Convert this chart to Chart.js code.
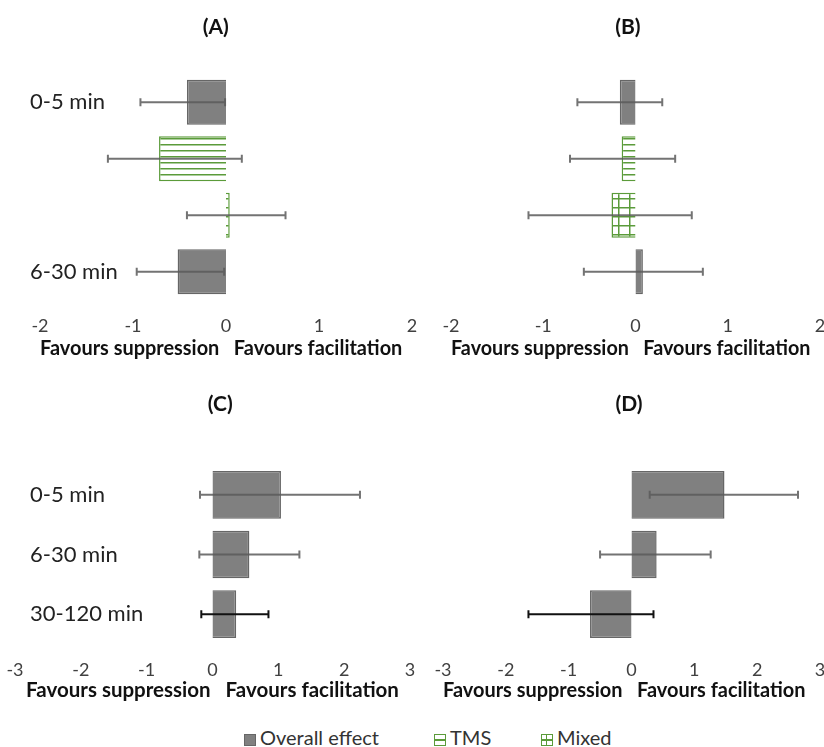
<!DOCTYPE html>
<html>
<head>
<meta charset="utf-8">
<script src="https://cdn.jsdelivr.net/npm/chart.js@4"></script>
<style>
  body { margin: 0; background: #fff; width: 824px; height: 747px; position: relative; overflow: hidden; font-family: Lato, sans-serif; }
  canvas { position: absolute; }
  #legend { position: absolute; top: 724px; left: 0; width: 824px; height: 26px; font-size: 20px; color: #333; }
  .item { position: absolute; top: 0; line-height: 26px; white-space: nowrap; }
  .sw { display: inline-block; width: 12px; height: 12px; margin-right: 4px; vertical-align: -1px; box-sizing: border-box; position: relative; }
  .sw.overall { background: #808080; border: 1px solid #666; }
  .sw.tms, .sw.mixed { border: 1.5px solid #5b9b3a; background: linear-gradient(#fff 42%, #5b9b3a 42%, #5b9b3a 58%, #fff 58%); }
  .sw.mixed::after { content: ""; position: absolute; left: 3.5px; top: 0; width: 1.5px; height: 100%; background: #5b9b3a; }
</style>
</head>
<body>
<canvas id="chartA" width="420" height="365" style="left:0;top:0"></canvas>
<canvas id="chartB" width="404" height="365" style="left:420px;top:0"></canvas>
<canvas id="chartC" width="420" height="336" style="left:0;top:370px"></canvas>
<canvas id="chartD" width="404" height="336" style="left:420px;top:370px"></canvas>
<div id="legend">
  <span class="item" style="left:244px"><span class="sw overall"></span>Overall effect</span>
  <span class="item" style="left:434px"><span class="sw tms"></span>TMS</span>
  <span class="item" style="left:541px"><span class="sw mixed"></span>Mixed</span>
</div>
<script>
// rows and values
const rowsAB = ["0-5 min", "", "", "6-30 min"];
const kindsAB = ["overall", "tms", "mixed", "overall"];
const effectA = [-0.42, -0.72, 0.04, -0.52];
const lowerA = [-0.92, -1.27, -0.42, -0.96];
const upperA = [-0.01, 0.17, 0.64, -0.02];
const effectB = [-0.17, -0.15, -0.26, 0.08];
const lowerB = [-0.63, -0.71, -1.16, -0.56];
const upperB = [0.29, 0.43, 0.61, 0.73];

const rowsCD = ["0-5 min", "6-30 min", "30-120 min"];
const kindsCD = ["overall", "overall", "overall"];
const effectC = [1.04, 0.56, 0.36];
const lowerC = [-0.19, -0.2, -0.17];
const upperC = [2.24, 1.32, 0.85];
const effectD = [1.48, 0.4, -0.66];
const lowerD = [0.29, -0.5, -1.64];
const upperD = [2.65, 1.26, 0.35];

const green = "#5b9b3a";
const grey = "#808080";
const errGrey = "rgba(90, 90, 90, 0.85)";
const axisText = "Favours suppression   Favours facilitation";

function makePattern(w, h, vertical) {
  const c = document.createElement("canvas");
  c.width = w;
  c.height = h;
  const g = c.getContext("2d");
  g.fillStyle = "#fff";
  g.fillRect(0, 0, w, h);
  g.fillStyle = green;
  g.fillRect(0, 0, w, 1.5);
  if (vertical) g.fillRect(0, 0, 1.5, h);
  return g.createPattern(c, "repeat");
}
const patterns = {
  tms: makePattern(8, 6, false),
  mixed: makePattern(11, 9, true),
};

// draws the confidence intervals on top of the bars
const errorBars = {
  id: "errorBars",
  afterDatasetsDraw(chart) {
    const ctx = chart.ctx;
    const x = chart.scales.x;
    chart.data.datasets.forEach((ds, i) => {
      chart.getDatasetMeta(i).data.forEach((bar, j) => {
        const x1 = x.getPixelForValue(ds.lower[j]);
        const x2 = x.getPixelForValue(ds.upper[j]);
        const y = bar.y;
        ctx.save();
        ctx.strokeStyle = ds.errColors[j];
        ctx.lineWidth = 2;
        ctx.beginPath();
        ctx.moveTo(x1, y);
        ctx.lineTo(x2, y);
        ctx.moveTo(x1, y - 4);
        ctx.lineTo(x1, y + 4);
        ctx.moveTo(x2, y - 4);
        ctx.lineTo(x2, y + 4);
        ctx.stroke();
        ctx.restore();
      });
    });
  },
};

function makeChart(id, title, xTitle, rows, kinds, effect, lower, upper, errColors, range, pad, showRows, labelPad) {
  return new Chart(document.getElementById(id), {
    type: "bar",
    data: {
      labels: rows,
      datasets: [
        {
          data: effect,
          lower: lower,
          upper: upper,
          errColors: errColors,
          backgroundColor: kinds.map((k) => (k === "overall" ? grey : patterns[k])),
          borderColor: kinds.map((k) => (k === "overall" ? "#666" : green)),
          borderWidth: 1.5,
          categoryPercentage: 1,
          barPercentage: 0.8,
        },
      ],
    },
    options: {
      indexAxis: "y",
      responsive: false,
      animation: false,
      layout: { padding: { left: pad.left, right: pad.right, top: 0, bottom: pad.bottom } },
      plugins: {
        legend: { display: false },
        tooltip: { enabled: false },
        title: {
          display: true,
          text: title,
          color: "#111",
          font: { family: "Lato", size: 21, weight: "bold" },
          padding: { top: pad.titleTop, bottom: pad.titleBottom },
        },
      },
      scales: {
        x: {
          min: range[0],
          max: range[1],
          grid: { display: false, drawTicks: false },
          border: { display: false },
          ticks: {
            stepSize: 1,
            padding: 15,
            color: "#404040",
            font: { family: "Lato", size: 18 },
          },
          title: {
            display: true,
            text: xTitle,
            color: "#111",
            font: { family: "Lato", size: 20.5, weight: "bold" },
            padding: { top: 0, bottom: 0 },
          },
          afterFit(s) {
            s.paddingLeft = 0;
            s.paddingRight = 0;
            s.height = pad.axisH;
          },
        },
        y: {
          grid: { display: false, drawTicks: false },
          border: { display: false },
          ticks: {
            display: showRows,
            mirror: true,
            crossAlign: "near",
            padding: labelPad,
            color: "#222",
            font: { family: "Lato", size: 22 },
          },
          afterFit(s) {
            s.width = 0;
            s.paddingTop = 0;
            s.paddingBottom = 0;
          },
        },
      },
    },
    plugins: [errorBars],
  });
}

const errAB = [errGrey, errGrey, errGrey, errGrey];
const errCD = [errGrey, errGrey, "#111"];

// spaces nudge the centred texts to where they sit in the figure
makeChart("chartA", "(A)    ", axisText + "  ", rowsAB, kindsAB, effectA, lowerA, upperA, errAB, [-2, 2],
  { left: 40, right: 8, bottom: 4.7, axisH: 60.3, titleTop: 14.4, titleBottom: 34.4 }, true, -10);
makeChart("chartB", "(B)   ", axisText + "  ", rowsAB, kindsAB, effectB, lowerB, upperB, errAB, [-2, 2],
  { left: 31, right: 4, bottom: 4.7, axisH: 60.3, titleTop: 14.4, titleBottom: 34.4 }, false, 0);
makeChart("chartC", "   (C)", axisText, rowsCD, kindsCD, effectC, lowerC, upperC, errCD, [-3, 3],
  { left: 15, right: 10, bottom: 3.7, axisH: 58.3, titleTop: 21.4, titleBottom: 48.4 }, true, 15);
makeChart("chartD", "(D) ", axisText + "   ", rowsCD, kindsCD, effectD, lowerD, upperD, errCD, [-3, 3],
  { left: 23, right: 4, bottom: 3.7, axisH: 58.3, titleTop: 21.4, titleBottom: 48.4 }, false, 0);
</script>
</body>
</html>
